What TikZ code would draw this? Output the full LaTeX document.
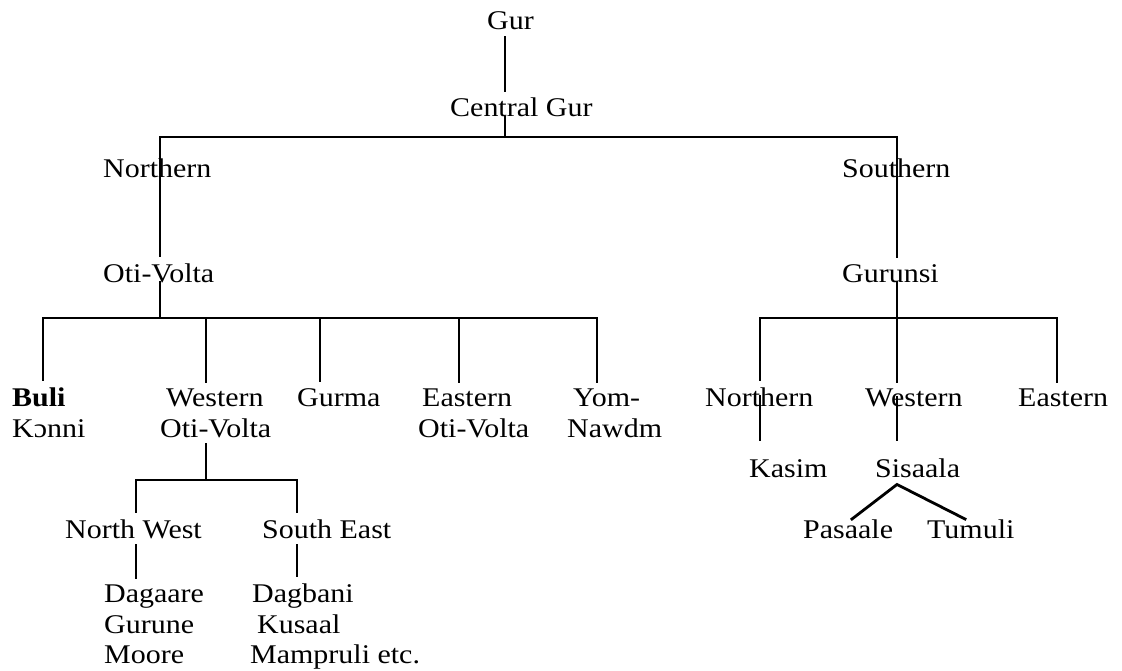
\documentclass[tikz,border=0pt]{standalone}
\usepackage{fontspec}
\setmainfont{Liberation Serif}[FakeStretch=1.11]
\usetikzlibrary{positioning, calc}

\tikzset{
  lang/.style={inner xsep=0pt, inner ysep=7pt, anchor=base west},
  branch/.style={line width=2.8pt, line cap=rect}
}

\begin{document}
\begin{tikzpicture}[x=1pt, y=-1pt, font=\fontsize{27}{31}\selectfont]
\useasboundingbox (0,0) rectangle (1122,671);

\node[lang] (gur) at (487,30) {Gur};
\node[lang] (cgur) at (450,117) {Central Gur};

\node[lang] (north) at (103,178) {Northern};
\node[lang] (south) at (842,178) {Southern};
\node[lang] (otivolta) at (103,282) {Oti-Volta};
\node[lang] (gurunsi) at (842,282) {Gurunsi};

\node[lang] (buli) at (12,406) {\textbf{Buli}};
\node[lang] (konni) at (12,437) {Kɔnni};
\node[lang] (wovA) at (166,406) {Western};
\node[lang] (wovB) at (160,437) {Oti-Volta};
\node[lang] (gurma) at (297,406) {Gurma};
\node[lang] (eovA) at (422,406) {Eastern};
\node[lang] (eovB) at (418,437) {Oti-Volta};
\node[lang] (yomA) at (573,406) {Yom-};
\node[lang] (yomB) at (567,437) {Nawdm};

\node[lang] (nw) at (65,538) {North West};
\node[lang] (se) at (262,538) {South East};
\node[lang] (dagaare) at (104,602) {Dagaare};
\node[lang] (gurune) at (104,633) {Gurune};
\node[lang] (moore) at (104,663) {Moore};
\node[lang] (dagbani) at (252,602) {Dagbani};
\node[lang] (kusaal) at (257,633) {Kusaal};
\node[lang] (mampruli) at (250,663) {Mampruli etc.};

\node[lang] (northR) at (705,406) {Northern};
\node[lang] (westR) at (865,406) {Western};
\node[lang] (eastR) at (1018,406) {Eastern};
\node[lang] (kasim) at (749,477) {Kasim};
\node[lang] (sisaala) at (875,477) {Sisaala};
\node[lang] (pasaale) at (803,538) {Pasaale};
\node[lang] (tumuli) at (927,538) {Tumuli};

\coordinate (j0) at (505,137);
\coordinate (jN) at (160,137);
\coordinate (jS) at (897,137);
\coordinate (j1) at (160,318);
\coordinate (j2) at (897,318);
\coordinate (cBuli) at (43,318);
\coordinate (cWov) at (206,318);
\coordinate (cGurma) at (320,318);
\coordinate (cEov) at (459,318);
\coordinate (cYom) at (597,318);
\coordinate (jW) at (206,480);
\coordinate (cNW) at (136,480);
\coordinate (cSE) at (297,480);
\coordinate (cNR) at (760,318);
\coordinate (cER) at (1057,318);
\coordinate (cKasim) at (760,440);
\coordinate (cSis) at (897,440);
\coordinate (cPas) at (852,519);
\coordinate (cTum) at (965,519);

\draw[branch] (gur.south -| j0) -- (cgur.north -| j0);
\draw[branch] (cgur.base -| j0) -- (j0);
\draw[branch] (jN) -- (jS);
\draw[branch] (jN) -- (otivolta.north -| jN);
\draw[branch] (otivolta.base -| jN) -- (j1);
\draw[branch] (jS) -- (gurunsi.north -| jS);
\draw[branch] (gurunsi.base -| jS) -- (j2);

\draw[branch] (cBuli) -- (cYom);
\draw[branch] (cBuli) -- (buli.north -| cBuli);
\draw[branch] (cWov) -- (wovA.north -| cWov);
\draw[branch] (cGurma) -- (gurma.north -| cGurma);
\draw[branch] (cEov) -- (eovA.north -| cEov);
\draw[branch] (cYom) -- (yomA.north -| cYom);

\draw[branch] (wovB.south -| jW) -- (jW);
\draw[branch] (cNW) -- (cSE);
\draw[branch] (cNW) -- (nw.north -| cNW);
\draw[branch] (cSE) -- (se.north -| cSE);
\draw[branch] (nw.south -| cNW) -- (dagaare.north -| cNW);
\draw[branch] (se.south -| cSE) -- (dagbani.north -| cSE);

\draw[branch] (cNR) -- (cER);
\draw[branch] (cNR) -- (northR.north -| cNR);
\draw[branch] (j2) -- (westR.north -| j2);
\draw[branch] (cER) -- (eastR.north -| cER);
\draw[branch] (northR.center -| cNR) -- (cKasim);
\draw[branch] (westR.center -| j2) -- (cSis);
\draw[branch] (cPas) -- (sisaala.south -| cSis) -- (cTum);

\end{tikzpicture}
\end{document}
